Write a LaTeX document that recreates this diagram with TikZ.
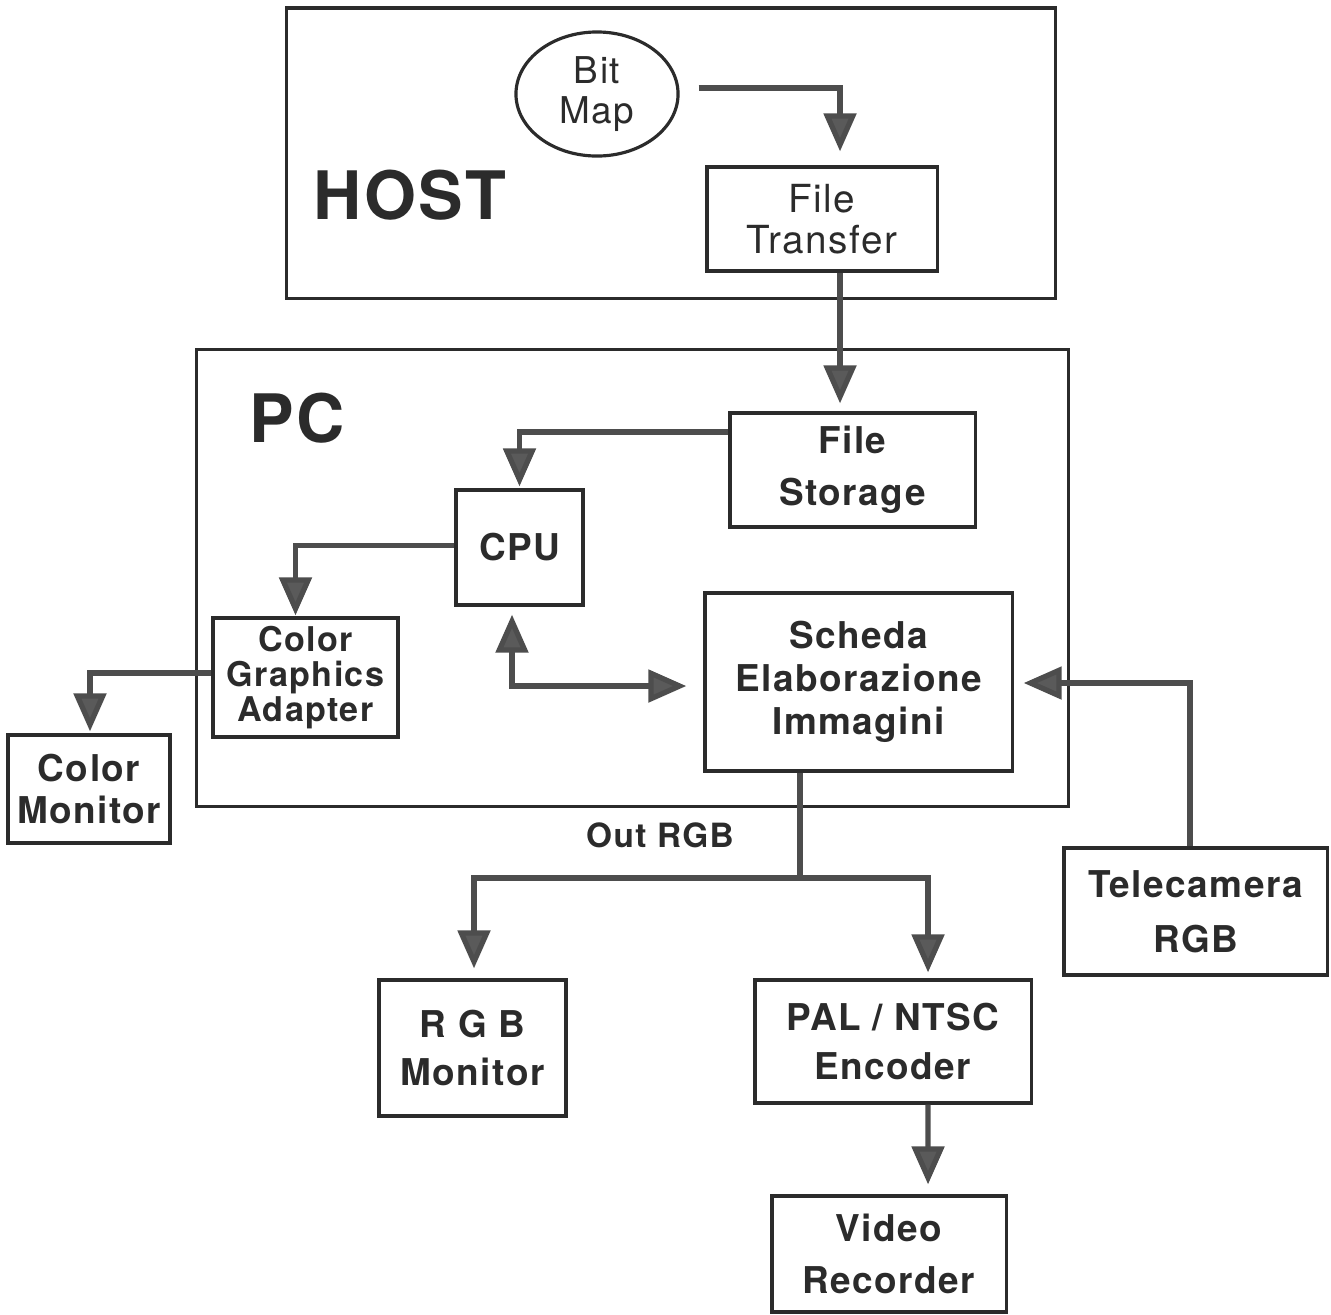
\documentclass[tikz,border=0pt]{standalone}
\usepackage{fontspec}
\setmainfont{TeX Gyre Heros}[LetterSpace=4]
\usetikzlibrary{arrows.meta,shapes.geometric}
\definecolor{ink}{HTML}{2B2B2B}
\definecolor{wire}{HTML}{4D4D4D}
\definecolor{headfill}{HTML}{5A5A5A}
\tikzset{
  frame/.style={draw=ink, line width=0.9pt},
  blk/.style={draw=ink, line width=0.9pt, align=center, text=ink, inner sep=0pt,
              font=\fontsize{10.5}{#1}\selectfont\bfseries},
  blk/.default=14pt,
  conn/.style={draw=wire, line width=1.5pt,
               -{Triangle[length=0.38cm,width=0.32cm,fill=headfill]}},
  biconn/.style={draw=wire, line width=1.5pt,
               {Triangle[length=0.38cm,width=0.32cm,fill=headfill]}-{Triangle[length=0.38cm,width=0.32cm,fill=headfill]}},
  plain/.style={draw=wire, line width=1.5pt},
  biglbl/.style={text=ink, font=\fontsize{19}{23}\selectfont\bfseries}
}
\begin{document}
\begin{tikzpicture}[x=0.01cm,y=-0.01cm]
\useasboundingbox (0,0) rectangle (1331,1314);
% frames
\node[frame, minimum width=7.68cm, minimum height=2.90cm] (host) at (671,153) {};
\node[frame, minimum width=8.71cm, minimum height=4.56cm] (pc) at (632.5,578) {};
\node[biglbl] (hostlbl) at (410,195) {HOST};
\node[biglbl] (pclbl) at (297,418) {PC};
% blocks
\node[draw=ink, ellipse, line width=0.9pt, minimum width=1.62cm, minimum height=1.24cm,
      inner sep=0pt, align=center, text=ink, font=\fontsize{10.5}{11.5}\selectfont] (bitmap) at (597,94) {Bit\\Map};
\node[blk, minimum width=2.30cm, minimum height=1.04cm, font=\fontsize{11}{11.5}\selectfont] (ft) at (822,219) {File\\Transfer};
\node[blk=14.8pt, minimum width=2.45cm, minimum height=1.14cm] (fs) at (852.5,470) {File\\Storage};
\node[blk, minimum width=1.27cm, minimum height=1.15cm] (cpu) at (519.5,547.5) {CPU};
\node[blk, minimum width=1.85cm, minimum height=1.19cm, font=\fontsize{9.7}{10}\selectfont\bfseries] (cga) at (305.5,677.5) {Color\\Graphics\\Adapter};
\node[blk=12.2pt, minimum width=1.62cm, minimum height=1.08cm] (cm) at (89,789) {Color\\Monitor};
\node[blk=12.2pt, minimum width=3.07cm, minimum height=1.78cm] (sch) at (858.5,682) {Scheda\\Elaborazione\\Immagini};
\node[blk=13.6pt, minimum width=1.87cm, minimum height=1.36cm] (rgb) at (472.5,1048) {R G B\\Monitor};
\node[blk=14pt, minimum width=2.76cm, minimum height=1.23cm] (pal) at (893,1041.5) {PAL / NTSC\\Encoder};
\node[blk=14.8pt, minimum width=2.34cm, minimum height=1.16cm] (vr) at (889,1254) {Video\\Recorder};
\node[blk=15.6pt, minimum width=2.63cm, minimum height=1.27cm] (tel) at (1195.5,911.5) {Telecamera\\RGB};
\node[text=ink, font=\fontsize{9.5}{11}\selectfont\bfseries] (outlbl) at (660,835) {Out RGB};
% connectors
\draw[conn, shorten <=0.19cm, shorten >=0.14cm] ([yshift=0.06cm]bitmap.east) -| ([xshift=0.18cm]ft.north);
\draw[conn, shorten >=0.08cm] ([xshift=0.18cm]ft.south) -- ([xshift=0.18cm]ft.south |- fs.north);
\draw[conn, shorten >=0.02cm] ([yshift=0.38cm]fs.west) -| (cpu.north);
\draw[conn, shorten >=0.01cm] ([yshift=0.02cm]cpu.west) -| ([xshift=-0.1cm]cga.north);
\draw[conn, shorten >=0.02cm] ([yshift=0.045cm]cga.west) -| ([xshift=0.01cm]cm.north);
\draw[biconn, shorten <=0.08cm, shorten >=0.17cm] ([xshift=-0.075cm]cpu.south) |- ([yshift=-0.04cm]sch.west);
\coordinate (split) at (800,878);
\draw[plain] (split |- sch.south) -- (split);
\draw[conn, shorten >=0.1cm] (split) -| ([xshift=0.015cm]rgb.north);
\draw[conn, shorten >=0.06cm] (split) -| ([xshift=0.35cm]pal.north);
\draw[conn, shorten >=0.1cm] ([xshift=0.35cm]pal.south) -- ([xshift=0.39cm]vr.north);
\draw[conn, shorten >=0.1cm] ([xshift=-0.055cm]tel.north) |- ([yshift=-0.01cm]sch.east);
\end{tikzpicture}
\end{document}
